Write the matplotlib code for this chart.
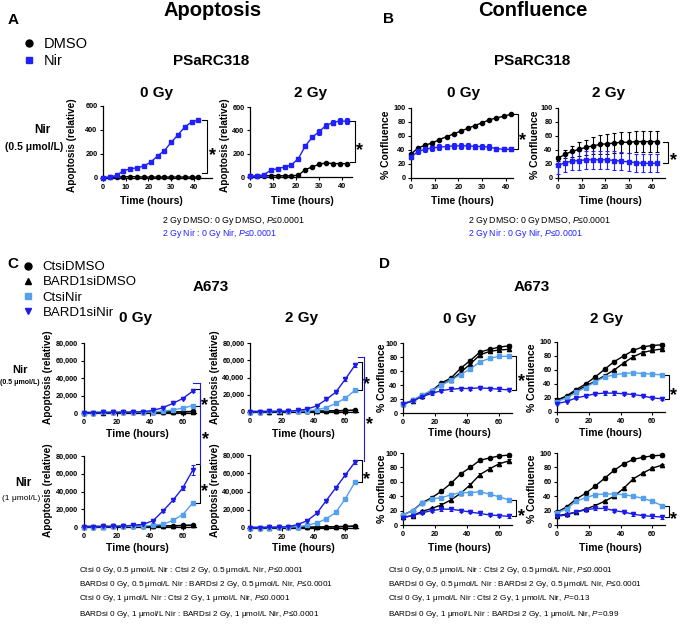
import numpy as np
import matplotlib
matplotlib.use('Agg')
import matplotlib.pyplot as plt
from matplotlib.lines import Line2D
from matplotlib.ticker import FuncFormatter

plt.rcParams['font.family'] = ['Liberation Sans', 'DejaVu Sans']
plt.rcParams['mathtext.fontset'] = 'custom'
plt.rcParams['mathtext.rm'] = 'Liberation Sans'
plt.rcParams['mathtext.it'] = 'Liberation Sans:italic'
plt.rcParams['mathtext.bf'] = 'Liberation Sans:bold'

BLACK = '#000000'
BLUE = '#2020ff'
LBLUE = '#55a0ee'
DBLUE = '#1c1ce6'

# ---------------- data: PSaRC318 (panels A, B) ----------------
ab_hours = [0, 3, 6, 9, 12, 15, 18, 21, 24, 27, 30, 33, 36, 39, 42]
A0_dmso = [3, 5, 8, 10, 12, 10, 8, 8, 8, 8, 8, 8, 8, 8, 8]
A0_nir = [3, 8, 22, 60, 76, 85, 100, 132, 183, 228, 296, 360, 425, 466, 484]
A2_dmso = [5, 8, 10, 12, 12, 10, 10, 15, 63, 86, 109, 121, 115, 115, 115]
A2_dmso_err = [0, 0, 0, 0, 0, 0, 0, 0, 5, 6, 6, 8, 6, 6, 6]
A2_nir = [5, 8, 20, 58, 72, 86, 104, 158, 265, 340, 389, 441, 467, 480, 478]
A2_nir_err = [0, 0, 0, 5, 6, 8, 8, 8, 10, 15, 25, 22, 25, 25, 25]

B0_dmso = [34, 43, 47, 50, 55, 59, 63, 67, 71, 75, 79, 83, 86, 88, 91]
B0_nir = [30, 38, 41, 43, 44, 45, 46, 46, 46, 45, 45, 44, 42, 41, 41]
B0_nir_err = [3, 4, 4, 4, 4, 4, 4, 4, 4, 4, 4, 4, 3, 3, 3]
B2_dmso = [28, 34, 38, 41, 44, 46, 48, 49, 50, 51, 51, 52, 52, 52, 52]
B2_dmso_err = [3, 6, 8, 10, 11, 12, 13, 14, 14, 15, 15, 15, 15, 15, 15]
B2_nir = [18, 22, 24, 25, 26, 26, 26, 26, 25, 24, 23, 22, 21, 21, 21]
B2_nir_err = [12, 13, 13, 13, 13, 13, 13, 13, 13, 13, 13, 13, 13, 13, 13]

# ---------------- data: A673 (panels C, D) ----------------
cd_hours = [0, 6, 12, 18, 24, 30, 36, 42, 48, 54, 60, 66]
series_names = ['CtsiDMSO', 'BARD1siDMSO', 'CtsiNir', 'BARD1siNir']

# Apoptosis, 0.5 / 1 umol/L Nir, 0 Gy / 2 Gy
C05_0 = {
    'CtsiDMSO': [500, 500, 600, 600, 600, 700, 800, 900, 1000, 1200, 1500, 1800],
    'BARD1siDMSO': [500, 500, 500, 600, 600, 600, 700, 800, 900, 1000, 1200, 1500],
    'CtsiNir': [500, 500, 600, 600, 700, 800, 900, 1200, 2000, 3500, 5500, 8500],
    'BARD1siNir': [500, 500, 600, 700, 800, 1000, 1500, 3000, 6000, 11000, 16500, 25000],
}
C05_2 = {
    'CtsiDMSO': [500, 500, 500, 600, 600, 700, 800, 1000, 1200, 1500, 1800, 2200],
    'BARD1siDMSO': [500, 500, 500, 500, 600, 600, 700, 800, 1000, 1200, 1500, 1800],
    'CtsiNir': [500, 500, 600, 600, 700, 900, 1500, 2500, 5000, 10000, 16000, 25000],
    'BARD1siNir': [500, 500, 600, 700, 900, 1800, 3500, 7000, 14500, 23000, 38000, 54000],
}
C1_0 = {
    'CtsiDMSO': [500, 500, 600, 600, 700, 800, 900, 1000, 1200, 1500, 1800, 2200],
    'BARD1siDMSO': [500, 500, 500, 600, 600, 700, 800, 900, 1000, 1200, 1500, 1800],
    'CtsiNir': [500, 500, 500, 600, 700, 800, 1000, 2000, 3000, 7500, 14000, 27000],
    'BARD1siNir': [500, 500, 600, 700, 900, 2000, 3000, 7000, 18000, 30000, 44000, 64000],
}
C1_2 = {
    'CtsiDMSO': [500, 500, 600, 600, 700, 800, 900, 1000, 1200, 1500, 1800, 2200],
    'BARD1siDMSO': [500, 500, 500, 600, 600, 700, 800, 900, 1000, 1200, 1500, 1800],
    'CtsiNir': [500, 500, 500, 600, 800, 1500, 3000, 5500, 10000, 17000, 32000, 50000],
    'BARD1siNir': [500, 500, 600, 800, 1500, 3700, 8000, 16000, 30000, 44000, 58000, 72000],
}
C_nir_err_05_0 = [0, 0, 0, 0, 0, 0, 0, 300, 500, 800, 1000, 1500]
C_nir_err_05_2 = [0, 0, 0, 0, 0, 0, 300, 500, 800, 1000, 1500, 2000]
C_nir_err_1_0 = [0, 0, 0, 0, 0, 0, 300, 500, 800, 1000, 2000, 5500]
C_nir_err_1_2 = [0, 0, 0, 0, 0, 300, 500, 800, 1000, 1200, 1500, 1500]

# Confluence (%)
D05_0 = {
    'CtsiDMSO': [13, 18, 25, 32, 43, 50, 64, 75, 87, 91, 94, 96],
    'BARD1siDMSO': [13, 17, 24, 31, 41, 47, 58, 70, 83, 88, 90, 91],
    'CtsiNir': [13, 18, 26, 32, 40, 47, 55, 63, 73, 78, 81, 81],
    'BARD1siNir': [13, 17, 23.5, 28, 32, 34, 35, 35, 36, 35, 34, 33],
}
D05_2 = {
    'CtsiDMSO': [17, 23, 32, 40, 50, 61, 72, 80, 88, 93, 95, 96],
    'BARD1siDMSO': [17, 22, 30, 37, 44, 52, 60, 70, 79, 85, 88, 90],
    'CtsiNir': [15, 20, 28, 35, 43, 50, 53, 55, 56, 55, 54, 53],
    'BARD1siNir': [12, 15, 20, 23, 26, 27, 27, 26, 25, 23, 20, 19],
}
D1_0 = {
    'CtsiDMSO': [14, 20, 31, 38, 47, 58, 71, 80, 90, 93, 96, 97],
    'BARD1siDMSO': [11, 13, 19, 23, 28, 35, 44, 56, 70, 78, 85, 89],
    'CtsiNir': [14, 20, 30, 36, 38, 42, 45, 45, 46, 43, 39, 35],
    'BARD1siNir': [10, 13, 17, 20, 22, 22, 20, 18, 16, 14, 13, 12],
}
D1_2 = {
    'CtsiDMSO': [18, 25, 36, 44, 54, 65, 76, 85, 91, 94, 96, 97],
    'BARD1siDMSO': [13, 15, 18, 22, 27, 33, 40, 51, 64, 72, 79, 83],
    'CtsiNir': [17, 22, 33, 38, 42, 43, 43, 42, 40, 37, 33, 27],
    'BARD1siNir': [12, 14, 18, 21, 23, 23, 20, 18, 15, 13, 12, 11],
}
D_err = [1, 1, 2, 2, 2, 2, 2, 2, 2, 2, 2, 2]

# ---------------- text ----------------
statsA = ['2 Gy DMSO: 0 Gy DMSO, $P$≤0.0001', '2 Gy Nir : 0 Gy Nir, $P$≤0.0001']
statsC = ['Ctsi 0 Gy, 0.5 μmol/L Nir : Ctsi 2 Gy, 0.5 μmol/L Nir, $P$≤0.0001',
          'BARDsi 0 Gy, 0.5 μmol/L Nir : BARDsi 2 Gy, 0.5 μmol/L Nir, $P$≤0.0001',
          'Ctsi 0 Gy, 1 μmol/L Nir : Ctsi 2 Gy, 1 μmol/L Nir, $P$≤0.0001',
          'BARDsi 0 Gy, 1 μmol/L Nir : BARDsi 2 Gy, 1 μmol/L Nir, $P$≤0.0001']
statsD = ['Ctsi 0 Gy, 0.5 μmol/L Nir : Ctsi 2 Gy, 0.5 μmol/L Nir, $P$≤0.0001',
          'BARDsi 0 Gy, 0.5 μmol/L Nir : BARDsi 2 Gy, 0.5 μmol/L Nir, $P$≤0.0001',
          'Ctsi 0 Gy, 1 μmol/L Nir : Ctsi 2 Gy, 1 μmol/L Nir, $P$=0.13',
          'BARDsi 0 Gy, 1 μmol/L Nir : BARDsi 2 Gy, 1 μmol/L Nir, $P$=0.99']

styles = {
    'DMSO': dict(color=BLACK, marker='o', ms=3.0),
    'Nir': dict(color=BLUE, marker='s', ms=3.2),
    'CtsiDMSO': dict(color=BLACK, marker='o', ms=3.0),
    'BARD1siDMSO': dict(color=BLACK, marker='^', ms=3.0),
    'CtsiNir': dict(color=LBLUE, marker='s', ms=3.0),
    'BARD1siNir': dict(color=DBLUE, marker='v', ms=3.0),
}

W, H = 680, 626
fig = plt.figure(figsize=(6.8, 6.26), dpi=100)


def px_ax(x0, x1, ytop, ybot):
    return fig.add_axes([x0 / W, 1 - ybot / H, (x1 - x0) / W, (ybot - ytop) / H])


def ft(x, y, s, **kw):
    kw.setdefault('ha', 'center')
    kw.setdefault('va', 'center')
    fig.text(x / W, 1 - y / H, s, **kw)


def style(ax, xlim, xticks, ylim, yticks, fmt=None):
    ax.set_xlim(*xlim)
    ax.set_ylim(*ylim)
    ax.set_xticks(xticks)
    ax.set_yticks(yticks)
    if fmt is not None:
        ax.yaxis.set_major_formatter(fmt)
    for s in ['top', 'right']:
        ax.spines[s].set_visible(False)
    for s in ['left', 'bottom']:
        ax.spines[s].set_linewidth(0.9)
    ax.tick_params(direction='out', length=2.5, width=0.8, pad=1.5, labelsize=5.3)
    plt.setp(ax.get_xticklabels() + ax.get_yticklabels(), fontweight='bold')
    ax.patch.set_alpha(0)


def series(ax, x, y, st, err=None):
    ax.errorbar(x, y, yerr=err, color=st['color'], marker=st['marker'], ms=st['ms'],
                lw=1.0, elinewidth=0.8, capsize=1.5, capthick=0.8, clip_on=False, zorder=3)


def star(ax, x, y, dx_px=1.0, dy_px=2.0, trans='data'):
    # asterisk glyph centred about dy_px below (x, y), dx_px to the right
    ax.annotate('*', xy=(x, y), xycoords=trans,
                xytext=(dx_px * 0.72, -(dy_px + 10.5) * 0.72), textcoords='offset points',
                fontsize=13, fontweight='bold', ha='left', va='baseline',
                annotation_clip=False)


def bracket(ax, x, ytop, ybot, dx, color=BLACK, sdx=1.5, sdy=2.5):
    ax.plot([x - dx, x, x, x - dx], [ytop, ytop, ybot, ybot], color=color, lw=0.8,
            clip_on=False)
    star(ax, x, (ytop + ybot) / 2, sdx, sdy)


fmt_k = FuncFormatter(lambda v, p: f'{int(v):,}')

# ---------------- titles ----------------
ft(213, 11, 'Apoptosis', fontsize=14.5, fontweight='bold')
ft(533, 11, 'Confluence', fontsize=14.5, fontweight='bold')
ft(13, 20, 'A', fontsize=11, fontweight='bold')
ft(389, 19, 'B', fontsize=11, fontweight='bold')
ft(13, 264, 'C', fontsize=11, fontweight='bold')
ft(384, 264, 'D', fontsize=11, fontweight='bold')

ft(211, 61, 'PSaRC318', fontsize=11, fontweight='bold')
ft(532, 61, 'PSaRC318', fontsize=11, fontweight='bold')
ft(157, 93, '0 Gy', fontsize=11, fontweight='bold')
ft(311, 93, '2 Gy', fontsize=11, fontweight='bold')
ft(464, 93, '0 Gy', fontsize=11, fontweight='bold')
ft(609, 93, '2 Gy', fontsize=11, fontweight='bold')
ft(42, 130, 'Nir', fontsize=8.5, fontweight='bold')
ft(34, 147, '(0.5 μmol/L)', fontsize=7.5, fontweight='bold')

ft(211, 287, 'A673', fontsize=11, fontweight='bold')
ft(532, 287, 'A673', fontsize=11, fontweight='bold')
ft(136, 318, '0 Gy', fontsize=11, fontweight='bold')
ft(302, 318, '2 Gy', fontsize=11, fontweight='bold')
ft(460, 319, '0 Gy', fontsize=11, fontweight='bold')
ft(607, 319, '2 Gy', fontsize=11, fontweight='bold')
ft(20, 370, 'Nir', fontsize=8, fontweight='bold')
ft(20, 383, '(0.5 μmol/L)', fontsize=5, fontweight='bold')
ft(23, 483, 'Nir', fontsize=8.5, fontweight='bold')
ft(21, 498, '(1 μmol/L)', fontsize=6)

# ---------------- Panel A ----------------
axA0 = px_ax(103, 212, 106, 178)
series(axA0, ab_hours, A0_dmso, styles['DMSO'])
series(axA0, ab_hours, A0_nir, styles['Nir'])
style(axA0, (0, 48), [0, 10, 20, 30, 40], (0, 600), [0, 200, 400, 600])
bracket(axA0, 45.8, A0_nir[-1], A0_dmso[-1] + 30, 2.2)

axA2 = px_ax(250, 352, 107, 177)
series(axA2, ab_hours, A2_dmso, styles['DMSO'], A2_dmso_err)
series(axA2, ab_hours, A2_nir, styles['Nir'], A2_nir_err)
style(axA2, (0, 44.3), [0, 10, 20, 30, 40], (0, 600), [0, 200, 400, 600])
bracket(axA2, 45.6, A2_nir[-1], A2_dmso[-1] + 10, 2.0)

# ---------------- Panel B ----------------
axB0 = px_ax(411, 513, 108, 178)
series(axB0, ab_hours, B0_dmso, styles['DMSO'])
series(axB0, ab_hours, B0_nir, styles['Nir'], B0_nir_err)
style(axB0, (0, 43), [0, 10, 20, 30, 40], (0, 100), [0, 20, 40, 60, 80, 100])
bracket(axB0, 45, B0_dmso[-1], B0_nir[-1], 2.2)

axB2 = px_ax(558, 665, 108, 178)
series(axB2, ab_hours, B2_dmso, styles['DMSO'], B2_dmso_err)
series(axB2, ab_hours, B2_nir, styles['Nir'], B2_nir_err)
style(axB2, (0, 45.5), [0, 10, 20, 30, 40], (0, 100), [0, 20, 40, 60, 80, 100])
bracket(axB2, 46.8, B2_dmso[-1], B2_nir[-1], 2.2)

for x, y in [(72, 145), (225, 145)]:
    ft(x, y, 'Apoptosis (relative)', fontsize=7.2, fontweight='bold', rotation=90)
for x, y in [(386, 145), (535, 145)]:
    ft(x, y, '% Confluence', fontsize=7.5, fontweight='bold', rotation=90)
for x in [151, 302, 462, 610]:
    ft(x, 201, 'Time (hours)', fontsize=7.5, fontweight='bold')

for x0 in [162, 468]:
    ft(x0, 221, statsA[0], fontsize=6.3, ha='left', color=BLACK)
    ft(x0, 233, statsA[1], fontsize=6.3, ha='left', color=BLUE)

legA = [Line2D([], [], ls='none', color=styles[n]['color'], marker=styles[n]['marker'], ms=5)
        for n in ['DMSO', 'Nir']]
fig.legend(legA, ['DMSO', 'Nir'], loc='upper left', bbox_to_anchor=(23 / W, 1 - 37 / H),
           frameon=False, fontsize=10.5, handlelength=0.8, handletextpad=0.6,
           labelspacing=0.2, borderpad=0, borderaxespad=0)

# ---------------- Panel C ----------------
C_panels = [
    (C05_0, C_nir_err_05_0, (83.5, 196, 343, 413)),
    (C05_2, C_nir_err_05_2, (250, 358, 343, 412)),
    (C1_0, C_nir_err_1_0, (83.5, 196, 456, 527)),
    (C1_2, C_nir_err_1_2, (250, 358, 455, 528)),
]
C_axes = []
for data, nerr, box in C_panels:
    ax = px_ax(*box)
    for name in series_names:
        err = nerr if name == 'BARD1siNir' else None
        series(ax, cd_hours, data[name], styles[name], err)
    style(ax, (0, 68), [0, 20, 40, 60], (0, 80000), [0, 20000, 40000, 60000, 80000], fmt_k)
    C_axes.append(ax)
    top = data['BARD1siNir'][-1] + nerr[-1] + 1500
    bot = data['CtsiNir'][-1]
    bracket(ax, 70.3, top, bot, 2.5)

to_fig = fig.transFigure.inverted()
for axT, axB_, dT, dB, eT, eB, cx in [
        (C_axes[0], C_axes[2], C05_0, C1_0, C_nir_err_05_0, C_nir_err_1_0, 70.3),
        (C_axes[1], C_axes[3], C05_2, C1_2, C_nir_err_05_2, C_nir_err_1_2, 71.8)]:
    yT = dT['BARD1siNir'][-1] + eT[-1] + 8000
    yB = dB['BARD1siNir'][-1] + eB[-1]
    axT.plot([cx - 4, cx], [yT, yT], color=DBLUE, lw=0.8, clip_on=False)
    fT = to_fig.transform(axT.transData.transform((cx, yT)))
    fB = to_fig.transform(axB_.transData.transform((cx, yB)))
    fig.add_artist(Line2D([fT[0], fB[0]], [fT[1], fB[1]], transform=fig.transFigure,
                          color=DBLUE, lw=0.8))
    mid = ((fT[0] + fB[0]) / 2, (fT[1] + fB[1]) / 2)
    star(axT, mid[0], mid[1], 2.0, 10.0, trans='figure fraction')

for x, y in [(48, 377), (215, 377), (48, 490), (215, 490)]:
    ft(x, y, 'Apoptosis (relative)', fontsize=7.2, fontweight='bold', rotation=90)
for x in [137, 303]:
    ft(x, 434, 'Time (hours)', fontsize=7.5, fontweight='bold')
    ft(x, 548, 'Time (hours)', fontsize=7.5, fontweight='bold')

legC = [Line2D([], [], ls='none', color=styles[n]['color'], marker=styles[n]['marker'], ms=5)
        for n in series_names]
fig.legend(legC, series_names, loc='upper left', bbox_to_anchor=(23 / W, 1 - 261 / H),
           frameon=False, fontsize=9.5, handlelength=0.8, handletextpad=0.7,
           labelspacing=0.22, borderpad=0, borderaxespad=0)

# ---------------- Panel D ----------------
D_panels = [
    (D05_0, (403, 512, 343, 413)),
    (D05_2, (557, 665, 342, 412)),
    (D1_0, (403, 512, 453, 525)),
    (D1_2, (557, 665, 453, 525)),
]
for data, box in D_panels:
    ax = px_ax(*box)
    for name in series_names:
        series(ax, cd_hours, data[name], styles[name], D_err)
    style(ax, (0, 68), [0, 20, 40, 60], (0, 100), [0, 20, 40, 60, 80, 100])
    bracket(ax, 70.5, data['CtsiNir'][-1], data['BARD1siNir'][-1], 2.5)

for x, y in [(382, 378), (532, 378), (382, 489), (532, 489)]:
    ft(x, y, '% Confluence', fontsize=7.5, fontweight='bold', rotation=90)
for x in [459, 610]:
    ft(x, 433, 'Time (hours)', fontsize=7.5, fontweight='bold')
    ft(x, 548, 'Time (hours)', fontsize=7.5, fontweight='bold')

# ---------------- stats text C / D ----------------
for i, y in enumerate([570, 585, 599, 614]):
    ft(79, y, statsC[i], fontsize=5.9, ha='left')
    ft(388, y, statsD[i], fontsize=5.9, ha='left')

fig.savefig('out.png', dpi=100)
